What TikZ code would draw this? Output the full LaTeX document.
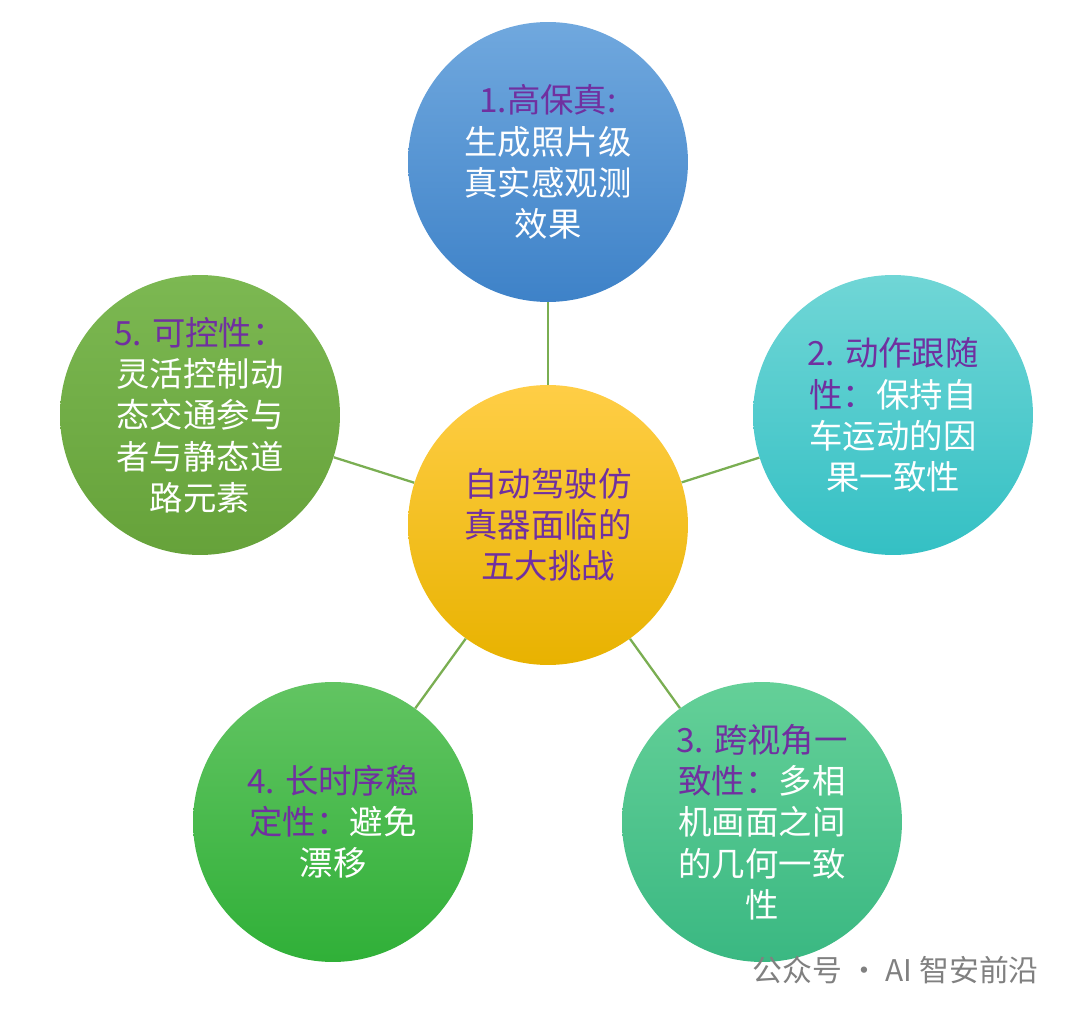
\documentclass[tikz,border=0pt]{standalone}
\usepackage{fontspec}
\setmainfont{Noto Sans CJK SC}
\usepackage{xcolor}
\definecolor{purp}{HTML}{7030A0}
\definecolor{linkgreen}{HTML}{7AAE52}
\tikzset{
  bubble/.style={circle, minimum size=5.6cm, inner sep=0pt, align=center,
    text=white, font=\fontsize{19}{23.5}\selectfont},
  link/.style={linkgreen, line width=1.3pt}
}
\begin{document}
\begin{tikzpicture}[x=0.02cm,y=-0.02cm]
	\useasboundingbox (0,0) rectangle (1080,1013);
	\node[bubble, top color={rgb,255:red,255;green,206;blue,70}, bottom color={rgb,255:red,232;green,178;blue,0}] (hub) at (548,525)
		{{\color{purp}自动驾驶仿}\\{\color{purp}真器面临的}\\{\color{purp}五大挑战}};
	\node[bubble, top color={rgb,255:red,112;green,168;blue,222}, bottom color={rgb,255:red,62;green,130;blue,200}] (fidelity) at (548,162)
		{{\color{purp}1.高保真:}\\生成照片级\\真实感观测\\效果};
	\node[bubble, top color={rgb,255:red,112;green,214;blue,214}, bottom color={rgb,255:red,52;green,192;blue,196}] (follow) at (893,415)
		{{\color{purp}2. 动作跟随}\\{\color{purp}性：}保持自\\车运动的因\\果一致性};
	\node[bubble, top color={rgb,255:red,100;green,208;blue,152}, bottom color={rgb,255:red,58;green,184;blue,130}] (multiview) at (762,822)
		{{\color{purp}3. 跨视角一}\\{\color{purp}致性：}多相\\机画面之间\\的几何一致\\性};
	\node[bubble, top color={rgb,255:red,98;green,196;blue,98}, bottom color={rgb,255:red,48;green,176;blue,56}] (stable) at (333,822)
		{{\color{purp}4. 长时序稳}\\{\color{purp}定性：}避免\\漂移};
	\node[bubble, top color={rgb,255:red,124;green,184;blue,82}, bottom color={rgb,255:red,102;green,162;blue,58}] (control) at (200,415)
		{{\color{purp}5. 可控性：}\\灵活控制动\\态交通参与\\者与静态道\\路元素};
	\draw[link] (hub) -- (fidelity);
	\draw[link] (hub) -- (follow);
	\draw[link] (hub) -- (multiview);
	\draw[link] (hub) -- (stable);
	\draw[link] (hub) -- (control);
	\node[text=gray, font=\fontsize{17}{20}\selectfont, anchor=east] (mark) at (1045,970) {公众号 · AI 智安前沿};
\end{tikzpicture}
\end{document}
